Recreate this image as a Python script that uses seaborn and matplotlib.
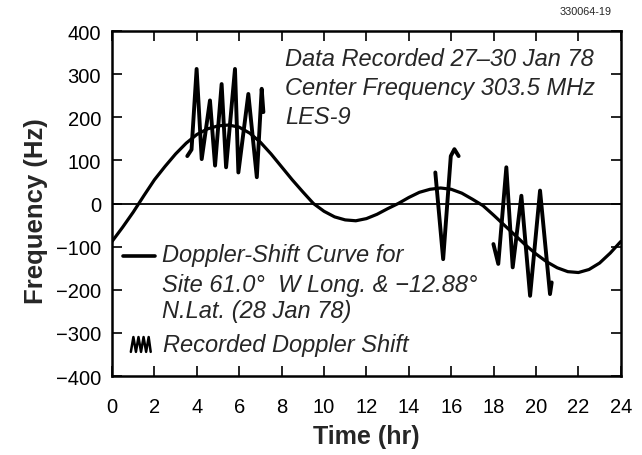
import matplotlib
matplotlib.use("Agg")
import matplotlib.pyplot as plt
import seaborn as sns
import pandas as pd

# ---- data ----
curve_hours = [0, 0.5, 1, 1.5, 2, 2.5, 3, 3.5, 4, 4.5, 5, 5.5, 6, 6.5, 7, 7.5, 8, 8.5,
               9, 9.5, 10, 10.5, 11, 11.5, 12, 12.5, 13, 13.5, 14, 14.5, 15, 15.5, 16,
               16.5, 17, 17.5, 18, 18.5, 19, 19.5, 20, 20.5, 21, 21.5, 22, 22.5, 23,
               23.5, 24]
curve_hz = [-88, -55, -20, 18, 55, 86, 115, 140, 160, 173, 180, 182, 177, 163, 142, 115,
            85, 55, 27, 0, -18, -31, -38, -40, -35, -25, -12, 0, 14, 26, 33, 36, 33,
            24, 10, -5, -27, -50, -73, -96, -117, -135, -149, -158, -160, -153, -138,
            -115, -88]

rec1_hours = [3.55, 3.75, 3.99, 4.23, 4.62, 4.86, 5.17, 5.38, 5.80, 5.96, 6.43, 6.83, 7.06, 7.14]
rec1_hz = [110, 125, 312, 103, 239, 88, 277, 84, 312, 72, 254, 61, 266, 212]

rec2_hours = [15.25, 15.62, 15.98, 16.15, 16.35]
rec2_hz = [72, -129, 110, 126, 110]

rec3_hours = [17.99, 18.22, 18.60, 18.90, 19.31, 19.72, 20.19, 20.66, 20.74]
rec3_hz = [-94, -140, 84, -148, 18, -214, 30, -210, -183]

x_ticks = list(range(0, 25, 2))
y_ticks = list(range(-400, 401, 100))

# ---- style ----
sns.set_theme(style="ticks")
plt.rcParams['font.family'] = ['Liberation Sans', 'DejaVu Sans']

fig = plt.figure(figsize=(6.42, 4.56), dpi=100)
ax = fig.add_axes([0.1745, 0.1732, 0.7925, 0.7566])

curve_df = pd.DataFrame({"hour": curve_hours, "hz": curve_hz})
sns.lineplot(data=curve_df, x="hour", y="hz", ax=ax, color="black", lw=2.3,
             sort=False, estimator=None)
for hrs, hz in [(rec1_hours, rec1_hz), (rec2_hours, rec2_hz), (rec3_hours, rec3_hz)]:
    df = pd.DataFrame({"hour": hrs, "hz": hz})
    sns.lineplot(data=df, x="hour", y="hz", ax=ax, color="black", lw=2.8,
                 sort=False, estimator=None)

ax.axhline(0, color="black", lw=1.3)

ax.set_xlim(0, 24)
ax.set_ylim(-400, 400)
ax.set_xticks(x_ticks)
ax.set_yticks(y_ticks)
ax.set_xticklabels([str(v) for v in x_ticks])
ax.set_yticklabels([str(v).replace('-', '\u2212') for v in y_ticks])
ax.tick_params(direction="in", length=7, width=1.2, top=True, right=True,
               labelsize=14.5, colors="black")
ax.tick_params(axis="x", pad=15)
ax.tick_params(axis="y", pad=8)
for s in ax.spines.values():
    s.set_linewidth(1.8)
    s.set_color("black")

ax.set_xlabel("Time (hr)", fontsize=18, fontweight="bold", labelpad=6)
ax.set_ylabel("Frequency (Hz)", fontsize=18.5, fontweight="bold")
ax.yaxis.set_label_coords(-0.126, 0.48)

# annotations
it = dict(fontsize=17, style="italic", transform=ax.transAxes, va="center", ha="left")
ax.text(0.34, 0.919, "Data Recorded 27\u201330 Jan 78", **it)
ax.text(0.34, 0.835, "Center Frequency 303.5 MHz", **it)
ax.text(0.34, 0.751, "LES-9", **it)

ax.text(0.098, 0.352, "Doppler-Shift Curve for", **it)
ax.text(0.098, 0.264, "Site 61.0\u00b0  W Long. & \u221212.88\u00b0", **it)
ax.text(0.098, 0.191, "N.Lat. (28 Jan 78)", **it)
ax.text(0.100, 0.090, "Recorded Doppler Shift", **it)

# legend glyphs
ax.plot([0.0216, 0.0845], [0.349, 0.349], color="black", lw=2.6, transform=ax.transAxes)
zx = [0.037, 0.042, 0.047, 0.052, 0.057, 0.062, 0.067, 0.072, 0.076]
zy = [0.070, 0.113, 0.070, 0.113, 0.070, 0.113, 0.070, 0.113, 0.070]
ax.plot(zx, zy, color="black", lw=1.8, transform=ax.transAxes)

fig.text(0.953, 0.974, "330064-19", fontsize=7.8, ha="right", va="center")

fig.savefig("out.png", dpi=100)
